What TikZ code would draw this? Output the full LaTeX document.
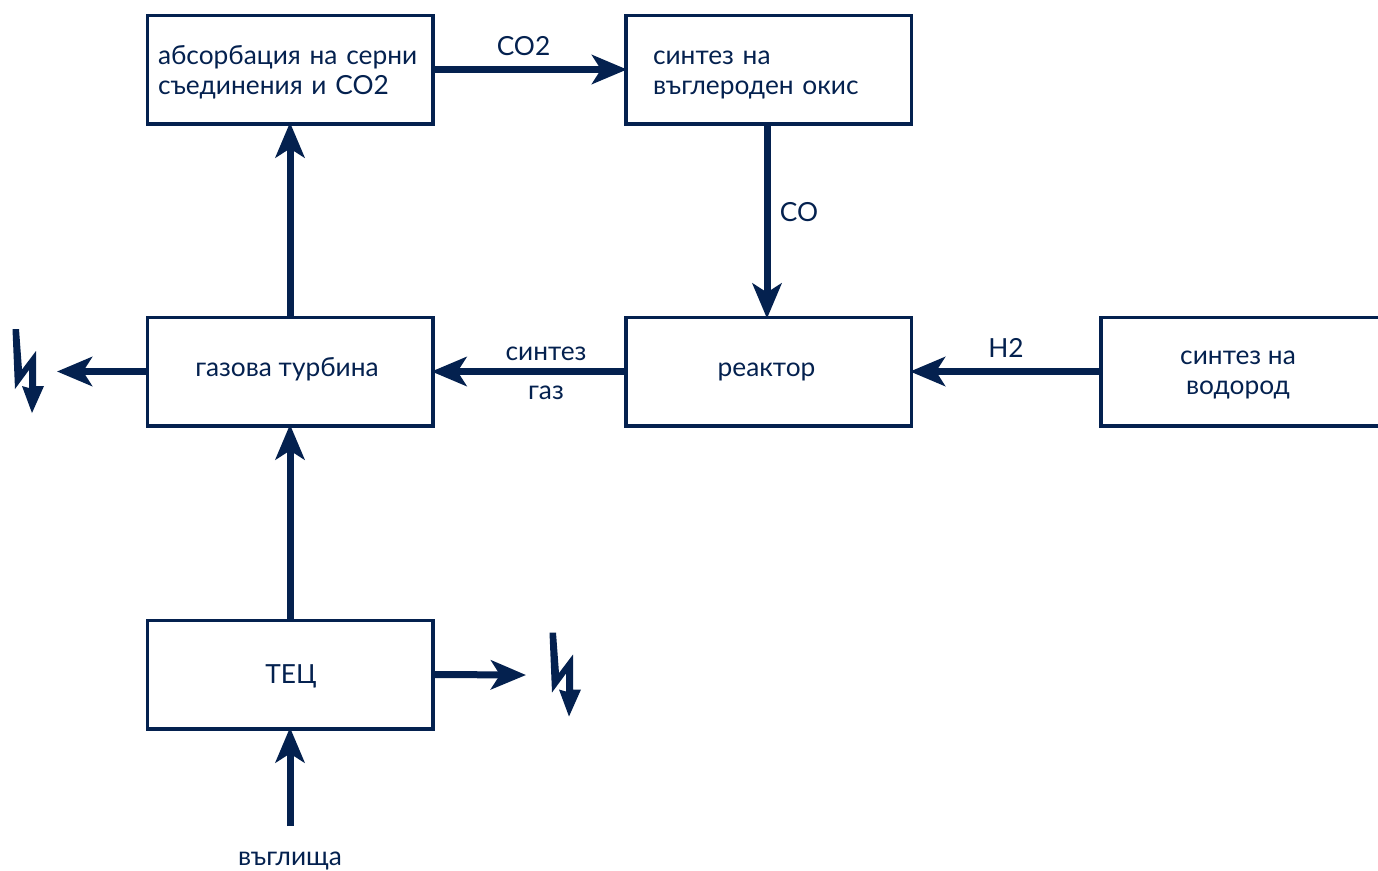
\documentclass[tikz,border=0pt]{standalone}
\usepackage{fontspec}
\setmainfont{Lato}
\usetikzlibrary{arrows.meta}
\definecolor{navy}{HTML}{04214F}
\newcommand{\tline}[2]{\raisebox{#1}[20pt][8pt]{#2}}
\tikzset{
  every node/.style={text=navy,font=\fontsize{26.3}{30}\selectfont},
  blockbox/.style={draw=navy,line width=3.5pt,minimum width=285.5pt,minimum height=108.5pt,inner sep=0pt},
  flow/.style={draw=navy,line width=7pt,shorten >=-3pt,-{Stealth[length=35pt,width=29pt,inset=9pt]}},
  lbl/.style={inner sep=0pt},
  bolt/.pic={\fill[navy] (0,0)--(6.5,0)--(9.5,40.5)--(23.5,22)--(23.5,57)--(31.5,57)--(19.5,84)--(9.5,57)--(16.5,59)--(16.5,41)--(2.5,60)--cycle;}
}
\begin{document}
\begin{tikzpicture}[x=1pt,y=-1pt]
\useasboundingbox (0,0) rectangle (1378,870);
\node[blockbox,text width=264pt,align=left] (abs) at (290,69.5) {\tline{-3.5pt}{абсорбация на серни}\\\tline{-3.5pt}{съединения и CO2}};
\node[blockbox,text width=231pt,align=left] (syn) at (768.5,69.5) {\tline{-3.5pt}{синтез на}\\\tline{-3.5pt}{въглероден окис}};
\node[blockbox] (turb) at (290,371.5) {\hspace{-6pt}\tline{1.5pt}{газова турбина}};
\node[blockbox] (react) at (768.5,371.5) {\hspace{-4pt}\tline{1pt}{реактор}};
\node[blockbox,align=center] (hyd) at (1243.5,371.5) {\hspace{-11pt}\tline{-1.5pt}{синтез на}\\\hspace{-11pt}\tline{-1.5pt}{водород}};
\node[blockbox] (tec) at (290,674.5) {\hspace{2pt}\tline{-3pt}{ТЕЦ}};
\node[lbl] (coal) at (290,861.5) {въглища};
\node[lbl] (lco2) at (523.5,46) {CO2};
\node[lbl] (lco) at (799,212) {CO};
\node[lbl] (lsg1) at (546,354) {синтез};
\node[lbl] (lsg2) at (546,393) {газ};
\node[lbl] (lh2) at (1006,348) {H2};
\coordinate (coalstart) at (290,826);
\coordinate (turbout) at (60,371.5);
\coordinate (tecout) at (523,675);
\draw[flow] (abs.east) -- (syn.west);
\draw[flow] ([xshift=-1.5pt]syn.south) -- ([xshift=-1.5pt]react.north);
\draw[flow] (react.west) -- (turb.east);
\draw[flow] (hyd.west) -- (react.east);
\draw[flow] (turb.north) -- (abs.south);
\draw[flow] (tec.north) -- (turb.south);
\draw[flow] (coalstart) -- (tec.south);
\draw[flow] (turb.west) -- (turbout);
\draw[flow] (tec.east) -- (tecout);
\pic at (12.5,329) {bolt};
\pic at (549.5,632.5) {bolt};
\end{tikzpicture}
\end{document}
